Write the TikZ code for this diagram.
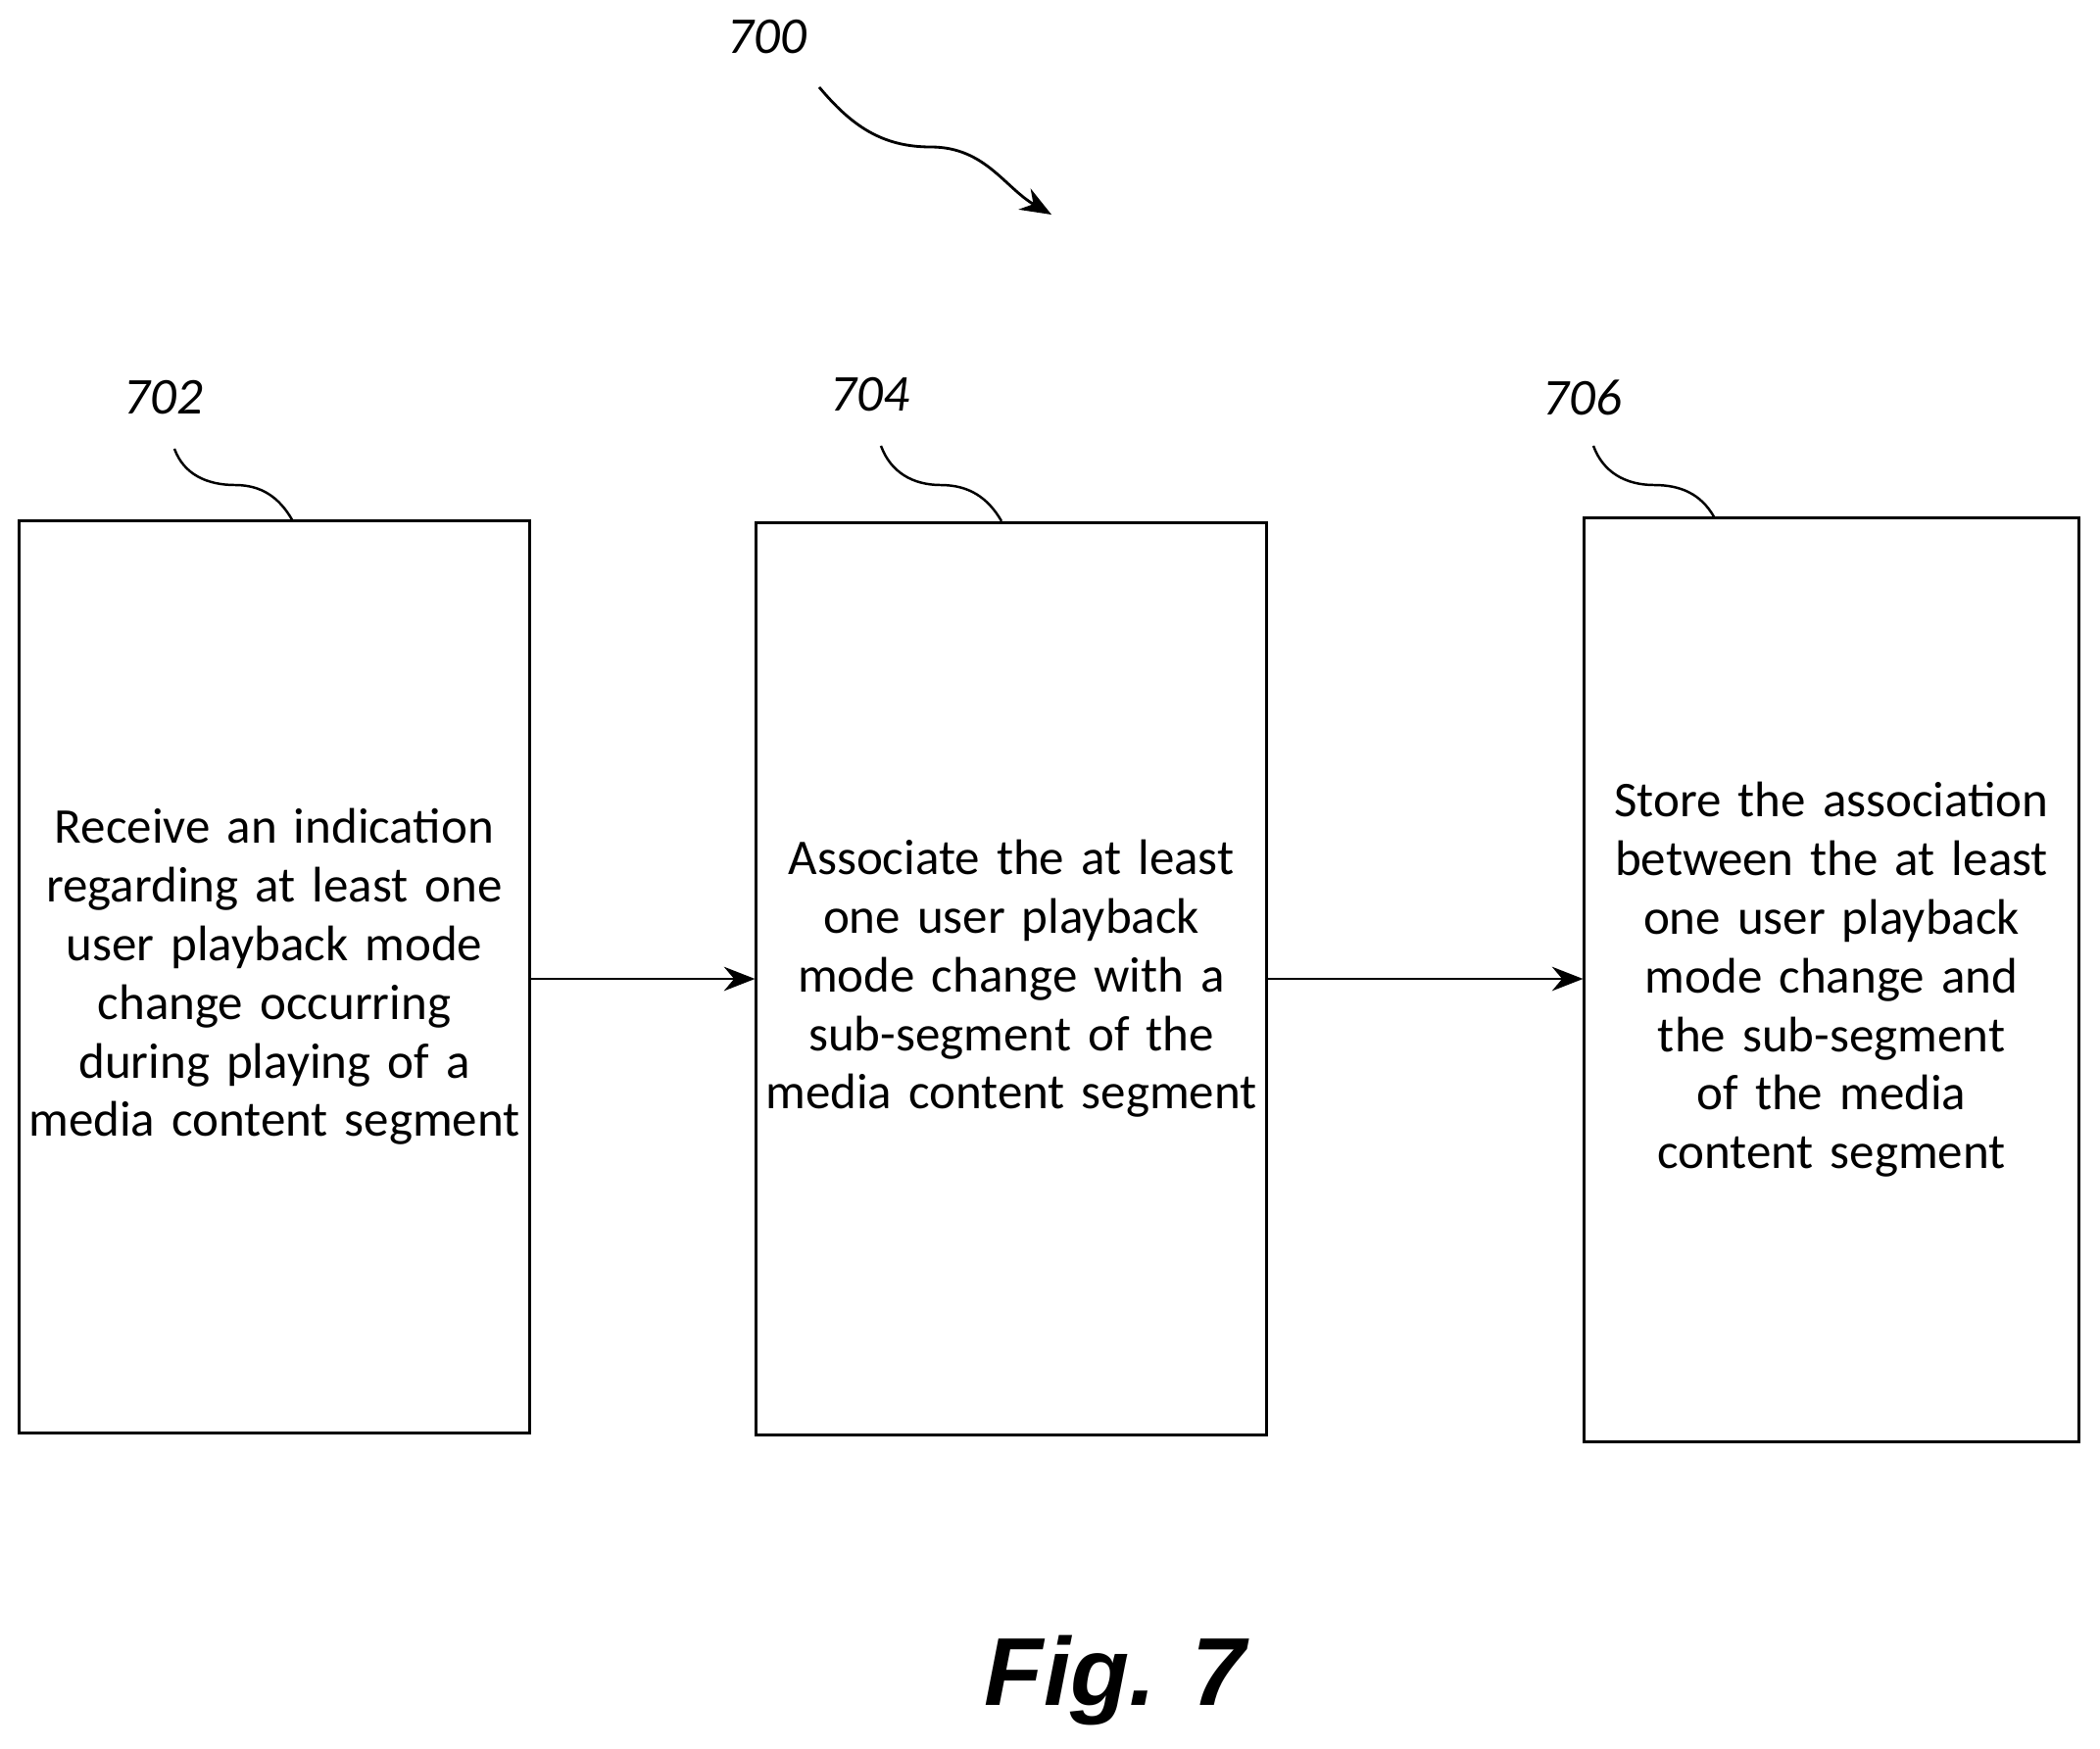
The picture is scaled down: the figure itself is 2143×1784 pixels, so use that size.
\documentclass[tikz,border=0pt]{standalone}
\usepackage{fontspec}
\setmainfont{Carlito}
\newfontfamily\figfont{Liberation Sans}
\usetikzlibrary{arrows.meta}
\begin{document}
\begin{tikzpicture}[x=0.01cm,y=-0.01cm,
    stepbox/.style={draw, line width=0.8pt, minimum width=5.2cm, text width=5.1cm,
        align=center, font=\fontsize{14.5}{17}\selectfont, inner sep=0pt},
    ref/.style={font=\itshape\fontsize{15}{18}\selectfont},
    flow/.style={-{Stealth[length=9pt,width=7pt]}, line width=0.6pt}]
    \useasboundingbox (0,0) rectangle (2143,1784);
    \node[stepbox, minimum height=9.3cm] (s702) at (280,997) {Receive an indication regarding at least one user playback mode change occurring during playing of a media content segment};
    \node[stepbox, minimum height=9.31cm] (s704) at (1032,999) {Associate the at least one user playback mode change with a sub-segment of the media content segment};
    \node[stepbox, minimum height=9.42cm, minimum width=5.04cm, text width=4.6cm] (s706) at (1869,1000) {Store the association between the at least one user playback mode change and the sub-segment of the media content segment};
    \draw[flow] (s702.east |- 0,999) -- (s704.west |- 0,999);
    \draw[flow] (s704.east |- 0,999) -- (s706.west |- 0,999);
    % reference numerals
    \node[ref] (n700) at (783,38) {700};
    \node[ref] (n702) at (167,406) {702};
    \node[ref] (n704) at (888,403) {704};
    \node[ref] (n706) at (1615,406) {706};
    \coordinate (t700) at (1073,219);
    \draw[flow, line width=0.8pt] (836,89) to[out=-50,in=180] (950,150) to[out=0,in=150] (t700);
    \draw[line width=0.7pt] (178,458) to[out=-70,in=180] (240,495) to[out=0,in=120] (s702.north -| 298,0);
    \draw[line width=0.7pt] (899,455) to[out=-70,in=180] (960,495) to[out=0,in=120] (s704.north -| 1022,0);
    \draw[line width=0.7pt] (1626,455) to[out=-70,in=180] (1688,495) to[out=0,in=120] (s706.north -| 1749,0);
    \node[font=\figfont\bfseries\itshape\fontsize{28}{32}\selectfont] (fig) at (1138,1715) {Fig. 7};
\end{tikzpicture}
\end{document}
